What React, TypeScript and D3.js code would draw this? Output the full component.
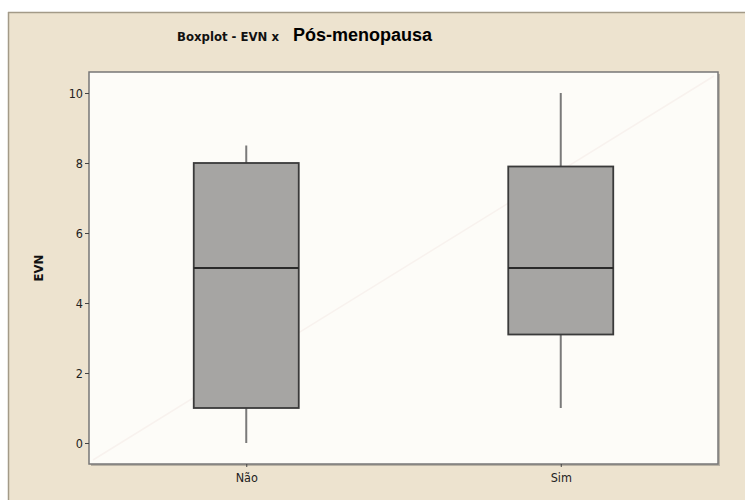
import { useEffect, useRef } from 'react'
import * as d3 from 'd3'

// boxplot stats
const groups = ['Não', 'Sim']
const whiskerLow = [0, 1]
const q1 = [1, 3.1]
const median = [5, 5]
const q3 = [8, 7.9]
const whiskerHigh = [8.5, 10]
const yTicks = [0, 2, 4, 6, 8, 10]

export default function App() {
  const ref = useRef<SVGSVGElement | null>(null)

  useEffect(() => {
    const svg = d3.select(ref.current)
    svg.selectAll('*').remove()

    const W = 745
    const H = 500
    const plot = { left: 89, top: 72, right: 718, bottom: 464 }
    const font = 'DejaVu Sans Condensed, DejaVu Sans, sans-serif'

    // page + frame
    svg.append('rect').attr('width', W).attr('height', H).attr('fill', '#ffffff')
    svg.append('rect').attr('x', 8).attr('y', 12).attr('width', W - 8).attr('height', H - 12).attr('fill', '#ede3cf')
    svg.append('line').attr('x1', 8.5).attr('x2', 8.5).attr('y1', 12).attr('y2', H).attr('stroke', '#a39a88').attr('stroke-width', 1.5)
    svg.append('line').attr('x1', 8).attr('x2', W).attr('y1', 12.5).attr('y2', 12.5).attr('stroke', '#a39a88').attr('stroke-width', 1.5)

    const x = d3.scalePoint<string>().domain(groups).range([plot.left, plot.right]).padding(0.5)
    const y = d3.scaleLinear().domain([-0.6, 10.6]).range([plot.bottom, plot.top])

    // plot area with a little shadow
    svg.append('rect')
      .attr('x', plot.left + 2).attr('y', plot.top + 2)
      .attr('width', plot.right - plot.left).attr('height', plot.bottom - plot.top)
      .attr('fill', '#b9b2a4')
    svg.append('rect')
      .attr('x', plot.left).attr('y', plot.top)
      .attr('width', plot.right - plot.left).attr('height', plot.bottom - plot.top)
      .attr('fill', '#fdfcf8').attr('stroke', '#777').attr('stroke-width', 1.5)

    // faint diagonal artefact
    svg.append('line')
      .attr('x1', plot.left + 4).attr('y1', plot.bottom - 4)
      .attr('x2', plot.right - 4).attr('y2', plot.top + 4)
      .attr('stroke', '#f8f2ee').attr('stroke-width', 1.5)

    const boxW = 105
    const g = svg.append('g')
    groups.forEach((name, i) => {
      const cx = x(name)!
      g.append('line')
        .attr('x1', cx).attr('x2', cx)
        .attr('y1', y(whiskerHigh[i])).attr('y2', y(q3[i]))
        .attr('stroke', '#7a7a7a').attr('stroke-width', 2)
      g.append('line')
        .attr('x1', cx).attr('x2', cx)
        .attr('y1', y(q1[i])).attr('y2', y(whiskerLow[i]))
        .attr('stroke', '#7a7a7a').attr('stroke-width', 2)
      g.append('rect')
        .attr('x', cx - boxW / 2).attr('y', y(q3[i]))
        .attr('width', boxW).attr('height', y(q1[i]) - y(q3[i]))
        .attr('fill', '#a6a5a3').attr('stroke', '#3a3a3a').attr('stroke-width', 1.8)
      g.append('line')
        .attr('x1', cx - boxW / 2).attr('x2', cx + boxW / 2)
        .attr('y1', y(median[i])).attr('y2', y(median[i]))
        .attr('stroke', '#2a2a2a').attr('stroke-width', 1.8)
    })

    // axes
    const yAxis = svg.append('g')
      .attr('transform', `translate(${plot.left},0)`)
      .call(d3.axisLeft(y).tickValues(yTicks).tickSize(4).tickPadding(2))
    yAxis.select('.domain').remove()
    yAxis.selectAll('line').attr('stroke', '#444')
    yAxis.selectAll('text')
      .attr('font-family', font)
      .attr('font-size', 12.5).attr('fill', '#222')

    const xAxis = svg.append('g')
      .attr('transform', `translate(0,${plot.bottom})`)
      .call(d3.axisBottom(x).tickSize(3).tickPadding(6))
    xAxis.select('.domain').remove()
    xAxis.selectAll('line').attr('stroke', '#444')
    xAxis.selectAll('text')
      .attr('font-family', font)
      .attr('font-size', 12.5).attr('fill', '#222')

    svg.append('text')
      .attr('transform', 'translate(43,268) rotate(-90)')
      .attr('text-anchor', 'middle')
      .attr('font-family', font)
      .attr('font-weight', 'bold').attr('font-size', 13).attr('fill', '#111')
      .text('EVN')

    // titles
    svg.append('text')
      .attr('x', 228).attr('y', 41)
      .attr('text-anchor', 'middle')
      .attr('font-family', font)
      .attr('font-weight', 'bold').attr('font-size', 13).attr('fill', '#111')
      .text('Boxplot - EVN x')
    svg.append('text')
      .attr('x', 293).attr('y', 41)
      .attr('font-family', 'Liberation Sans, Arial, sans-serif')
      .attr('font-weight', 'bold').attr('font-size', 18).attr('fill', '#000')
      .text('Pós-menopausa')
  }, [])

  return (
    <div style={{ position: 'absolute', left: 0, top: 0 }}>
      <svg width={745} height={500} ref={ref} style={{ display: 'block' }} />
    </div>
  )
}
